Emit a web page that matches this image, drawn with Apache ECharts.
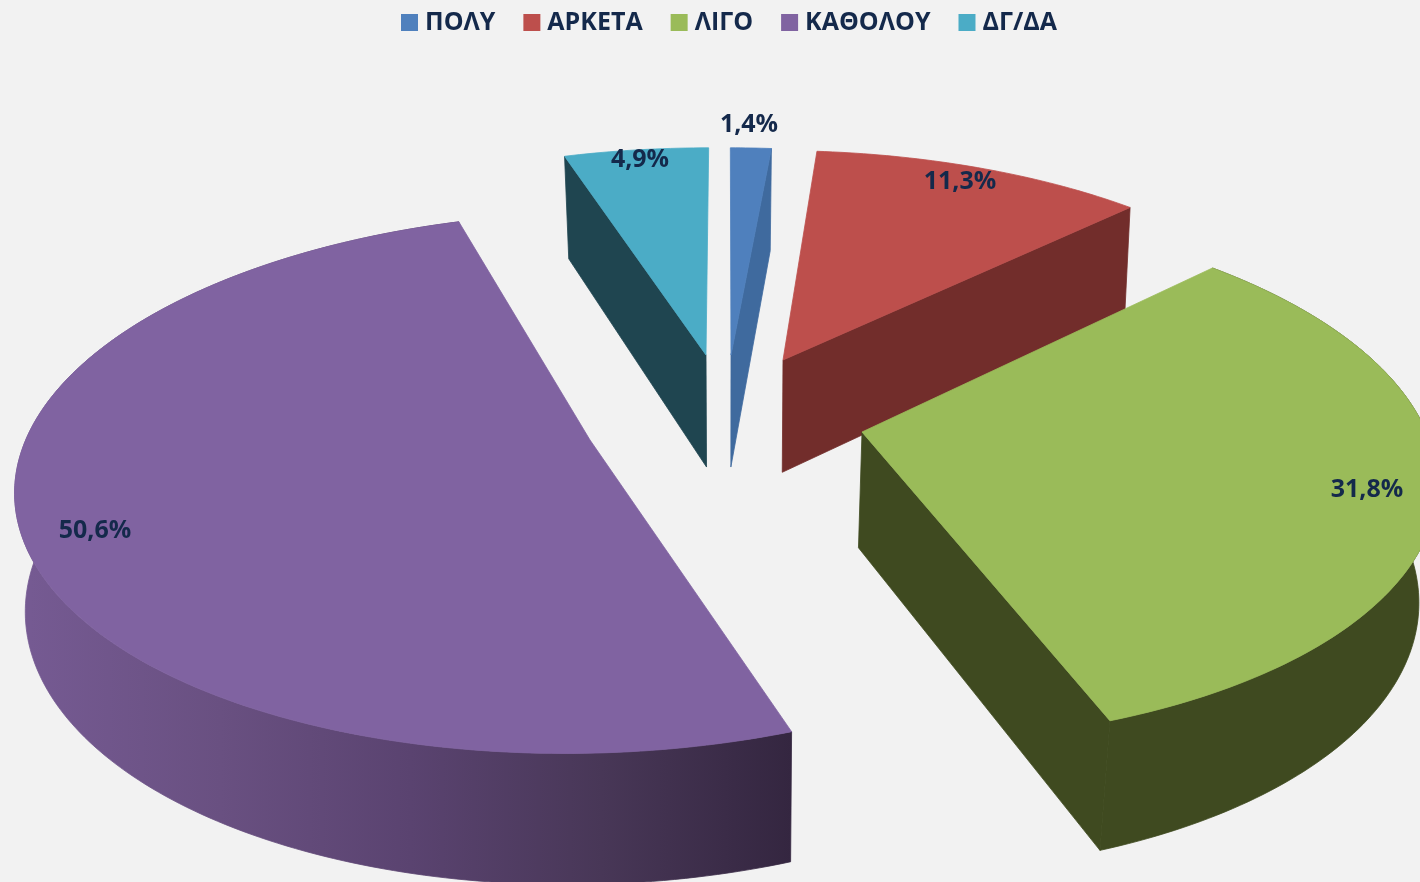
<!DOCTYPE html>
<html><head><meta charset="utf-8">
<style>html,body{margin:0;padding:0;background:#f2f2f2}#c{width:1420px;height:882px}</style>
<script src="https://cdn.jsdelivr.net/npm/echarts@6/dist/echarts.min.js"></script>
</head><body><div id="c"></div>
<script>
// Data
const categories = ['ΠΟΛΥ','ΑΡΚΕΤΑ','ΛΙΓΟ','ΚΑΘΟΛΟΥ','ΔΓ/ΔΑ'];
const values = [1.4,11.3,31.8,50.6,4.9];
const labelTexts = ['1,4%','11,3%','31,8%','50,6%','4,9%'];
// Style
const topColors = ['#4f80bd','#bd4f4c','#9abb59','#8063a1','#4bacc6'];
const wallColors = ['#3f6a9e','#722d2b','#3f4a20','#5a4370','#1f4550'];
// Layout: apex of each exploded slice, per-slice scale, label centre
const apexes = [[731,355],[783,360],[862,432],[590,440],[706,355]];
const scaleX = [0.95,0.96,0.99,0.99,0.96];
const scaleY = [0.92,0.93,1,1.01,0.92];
const converge = [0.974,0.987,0.974,0.985,0.974];
const showStartWall = [false,false,false,false,true];
const showEndWall = [true,true,true,false,false];
const showArcWall = [false,false,true,true,false];
const labelAt = [[749,125],[960,182],[1367,490],[95,531],[640,160]];
const drawOrder = [0,1,4,3,2];
const R = 570, A = 261, K = 0.159, VX = 726, SKEW = 0.154;
const DEPTH0 = 95, DEPTH1 = 0.048;

const total = values.reduce((a,b)=>a+b,0);
const startAngle = i => values.slice(0,i).reduce((a,b)=>a+b,0)/total*2*Math.PI;

function topPoint(i,t){
  const X=Math.sin(t),Y=Math.cos(t),s=1/(1+K*Y),c=apexes[i];
  const skew=(VX-c[0])*SKEW;
  return [c[0]+(R*scaleX[i]*X+skew*Y)*s, c[1]-A*scaleY[i]*Y*s];
}
function lower(i,p){
  return [VX+(p[0]-VX)*converge[i], p[1]+DEPTH0+DEPTH1*p[1]];
}
function poly(points,fill,z2){
  return {type:'polygon',z2:z2,shape:{points:points},style:{fill:fill,stroke:fill,lineWidth:0.8}};
}
function renderSlice(params,api){
  const i=api.value(0), v=api.value(1);
  const a0=startAngle(i), a1=a0+v/total*2*Math.PI;
  const n=Math.max(8,Math.ceil((a1-a0)*60));
  const arc=[];
  for(let k=0;k<=n;k++) arc.push(topPoint(i,a0+(a1-a0)*k/n));
  const apex=apexes[i], apexLow=lower(i,apex);
  const arcLow=arc.map(p=>lower(i,p));
  const wall=wallColors[i];
  const arcFill = i===3
    ? new echarts.graphic.LinearGradient(30,0,792,0,[
        {offset:0,color:'#755a92'},{offset:0.25,color:'#695081'},{offset:0.5,color:'#5a4370'},
        {offset:0.75,color:'#483757'},{offset:1,color:'#342640'}],true)
    : wall;
  const children=[];
  if(showStartWall[i]) children.push(poly([apex,arc[0],arcLow[0],apexLow],wall,1));
  if(showEndWall[i]) children.push(poly([apex,arc[n],arcLow[n],apexLow],wall,1));
  if(showArcWall[i]) children.push(poly(arc.concat(arcLow.slice().reverse()),arcFill,2));
  children.push(poly([apex].concat(arc),topColors[i],3));
  children.push({type:'text',z2:5,style:{x:labelAt[i][0],y:labelAt[i][1],text:labelTexts[i],
      font:'bold 25px "Open Sans"',fill:'#14294b',align:'center',verticalAlign:'middle'}});
  return {type:'group',children:children};
}
const chart=echarts.init(document.getElementById('c'),null,{renderer:'canvas'});
chart.setOption({
  backgroundColor:'#f2f2f2',
  animation:false,
  color:topColors,
  legend:{
    top:5,left:396,itemWidth:17,itemHeight:17,itemGap:28,
    icon:'rect',
    data:categories,
    textStyle:{fontFamily:'Open Sans',fontWeight:'bold',fontSize:25,color:'#14294b',padding:[0,0,0,2]}
  },
  series:drawOrder.map(i=>({
    type:'custom',name:categories[i],coordinateSystem:'none',
    itemStyle:{color:topColors[i]},
    renderItem:renderSlice,
    data:[[i,values[i]]],
    silent:true
  }))
});
</script></body></html>
